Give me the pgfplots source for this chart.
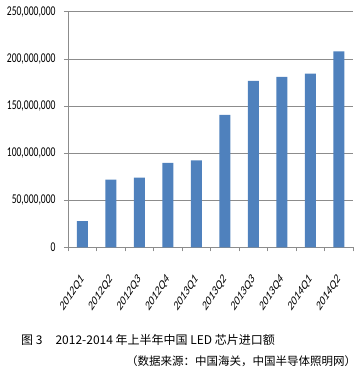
\documentclass[border=0pt]{standalone}
\usepackage{pgfplots}
\pgfplotsset{compat=1.18}
\usepackage{fontspec}
\setmainfont{Carlito}
\newfontfamily\cjk{Noto Sans CJK SC}
\definecolor{barblue}{HTML}{4F81BD}
\definecolor{gridgray}{HTML}{8C8C8C}
\newcommand\XL[1]{\scalebox{1}[1.5]{\rotatebox{45}{#1}}}
\begin{document}
\begin{tikzpicture}
\useasboundingbox (0,0) rectangle (357bp,373bp);
\begin{axis}[
  at={(68bp,125.7bp)}, anchor=south west,
  scale only axis, width=285bp, height=235.6bp,
  xmin=-0.5, xmax=9.5, ymin=0, ymax=250000000,
  axis x line=bottom, axis y line=left,
  axis line style={-, gridgray, line width=0.6pt},
  ytick={0,50000000,100000000,150000000,200000000,250000000},
  scaled y ticks=false,
  /pgf/number format/fixed,
  /pgf/number format/1000 sep={,},
  /pgf/number format/assume math mode=true,
  yticklabel={\scalebox{1}[1.4]{\pgfmathprintnumber{\tick}}},
  yticklabel style={font=\fontsize{9.6bp}{11bp}\selectfont, xshift=-5bp},
  ymajorgrids, grid style={gridgray, line width=0.6pt},
  xtick={0,...,9},
  xticklabels={\XL{2012Q1},\XL{2012Q2},\XL{2012Q3},\XL{2012Q4},\XL{2013Q1},\XL{2013Q2},\XL{2013Q3},\XL{2013Q4},\XL{2014Q1},\XL{2014Q2}},
  xticklabel style={font=\fontsize{9.2bp}{11bp}\selectfont, anchor=north east, inner sep=0pt, xshift=3bp, yshift=-22bp},
  major x tick style={draw=none},
  minor xtick={-0.5,0.5,...,9.5},
  minor tick length=4bp, major tick length=4bp,
  tick align=outside,
  tick style={gridgray, line width=0.6pt},
  ybar, bar width=11bp,
]
\addplot[fill=barblue, draw=none] coordinates {
(0,27900000) (1,71700000) (2,73800000) (3,89700000) (4,92200000)
(5,140500000) (6,176600000) (7,180800000) (8,184300000) (9,208000000)};
\end{axis}
\node[anchor=base west, inner sep=0pt, font=\cjk\fontsize{12bp}{14bp}\selectfont] at (21bp,29bp) {图 3\hspace{13bp}2012-2014 年上半年中国 LED 芯片进口额};
\node[anchor=base west, inner sep=0pt, font=\cjk\fontsize{11.5bp}{14bp}\selectfont] at (126bp,8bp) {（数据来源：中国海关，中国半导体照明网）};
\end{tikzpicture}
\end{document}
